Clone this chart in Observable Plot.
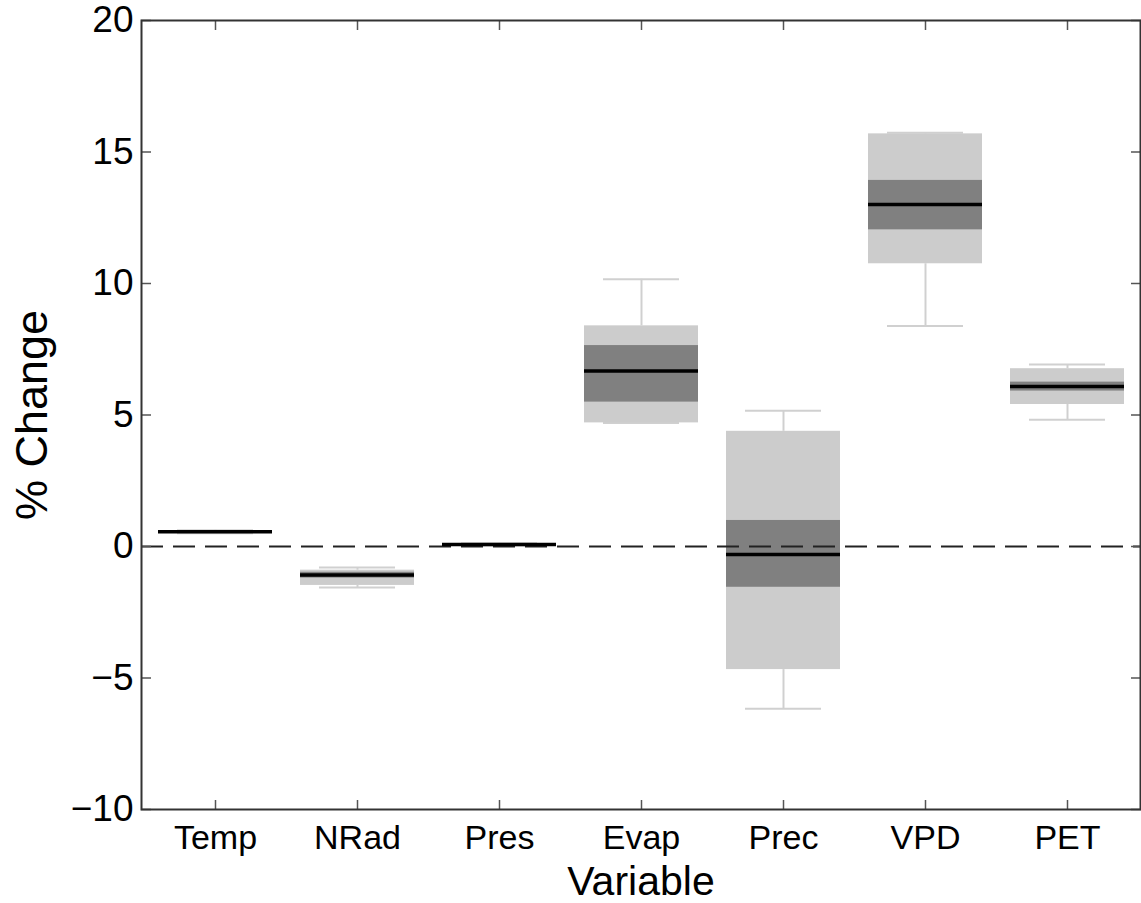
<!DOCTYPE html>
<html><head><meta charset="utf-8">
<script src="https://cdn.jsdelivr.net/npm/d3@7"></script>
<script src="https://cdn.jsdelivr.net/npm/@observablehq/plot@0.6"></script>
<style>body{margin:0;background:#fff}</style>
</head><body><div id="chart"></div>
<script>
const categories = ["Temp","NRad","Pres","Evap","Prec","VPD","PET"];
const whiskerLow  = [0.50, -1.56, 0.04, 4.70, -6.17,  8.38, 4.82];
const outerLow    = [0.52, -1.48, 0.05, 4.70, -4.68, 10.75, 5.40];
const q1          = [0.54, -1.20, 0.06, 5.49, -1.55, 12.04, 5.91];
const medians     = [0.56, -1.08, 0.08, 6.67, -0.30, 13.00, 6.08];
const q3          = [0.58, -0.98, 0.10, 7.64,  0.99, 13.92, 6.25];
const outerHigh   = [0.60, -0.90, 0.11, 8.39,  4.38, 15.69, 6.76];
const whiskerHigh = [0.62, -0.80, 0.12, 10.16, 5.16, 15.73, 6.92];
const yTicks = [-10, -5, 0, 5, 10, 15, 20];

const rows = categories.map((c, i) => ({
  cat: c, wl: whiskerLow[i], lo: outerLow[i], q1: q1[i], med: medians[i],
  q3: q3[i], hi: outerHigh[i], wh: whiskerHigh[i]
}));

const font = "'Liberation Sans', Arial, Helvetica, sans-serif";
const whisk = "#d0d0d0";

const chart = Plot.plot({
  width: 1141, height: 903,
  marginLeft: 141, marginRight: 1, marginTop: 20, marginBottom: 94,
  style: {fontFamily: font, background: "#fff", color: "#000"},
  x: {type: "band", domain: categories, paddingInner: 0.2, paddingOuter: 0.1, axis: null},
  y: {domain: [-10, 20], axis: null},
  marks: [
    Plot.ruleX(rows, {x: "cat", y1: "hi", y2: "wh", stroke: whisk, strokeWidth: 2}),
    Plot.ruleX(rows, {x: "cat", y1: "wl", y2: "lo", stroke: whisk, strokeWidth: 2}),
    Plot.tickY(rows, {x: "cat", y: "wh", stroke: whisk, strokeWidth: 2, inset: 19}),
    Plot.tickY(rows, {x: "cat", y: "wl", stroke: whisk, strokeWidth: 2, inset: 19}),
    Plot.barY(rows, {x: "cat", y1: "lo", y2: "hi", fill: "#cccccc", inset: 0}),
    Plot.barY(rows, {x: "cat", y1: "q1", y2: "q3", fill: "#808080", inset: 0}),
    Plot.ruleY([0], {stroke: "#222", strokeWidth: 2, strokeDasharray: "22,10"}),
    Plot.tickY(rows, {x: "cat", y: "med", stroke: "#000", strokeWidth: 3.5}),
    // inward ticks
    Plot.axisY({anchor: "left", ticks: yTicks, tickSize: -10, tickFormat: () => "", label: null, stroke: "#555", strokeWidth: 1.5}),
    Plot.axisY({anchor: "right", ticks: yTicks, tickSize: -10, tickFormat: () => "", label: null, stroke: "#555", strokeWidth: 1.5}),
    Plot.axisX({anchor: "bottom", tickSize: -9, tickFormat: () => "", label: null, stroke: "#555", strokeWidth: 1.5}),
    Plot.axisX({anchor: "top", tickSize: -9, tickFormat: () => "", label: null, stroke: "#555", strokeWidth: 1.5}),
    // labels
    Plot.axisY({anchor: "left", ticks: yTicks, tickSize: 0, tickPadding: 8, fontSize: 37, label: null}),
    Plot.axisX({anchor: "bottom", tickSize: 0, tickPadding: 15, fontSize: 34, label: null}),
    Plot.text(["Variable"], {frameAnchor: "bottom", lineAnchor: "middle", textAnchor: "middle", dy: 72, fontSize: 41, fill: "#000"}),
    Plot.text(["% Change"], {frameAnchor: "left", lineAnchor: "middle", textAnchor: "middle", dx: -109, rotate: -90, fontSize: 45, fill: "#000"}),
    Plot.frame({stroke: "#333", strokeWidth: 2})
  ]
});
document.getElementById("chart").appendChild(chart);
</script>
</body></html>
